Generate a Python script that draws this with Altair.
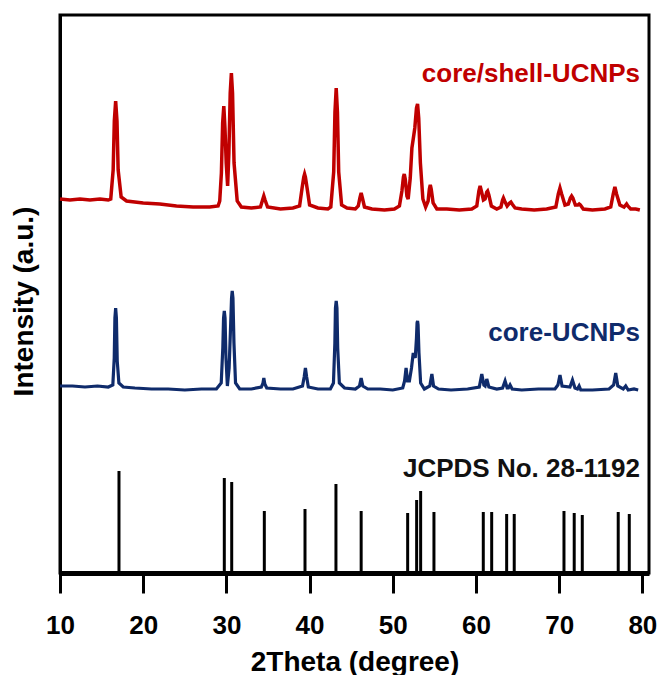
import altair as alt
import pandas as pd

# ---------------- data ----------------
# core/shell-UCNPs pattern: 2theta (deg), intensity (a.u.)
shell_x = [10.0, 11.2, 12.4, 13.6, 14.8, 15.8,
           16.1, 16.39, 16.53, 16.69, 16.85, 16.99, 17.35,
           18.0, 20.0, 22.0, 24.0, 26.0, 28.0, 29.0,
           29.2, 29.4, 29.55, 29.69, 29.83, 29.98, 30.15, 30.3, 30.46, 30.6, 30.74, 30.92, 31.3, 31.8,
           33.0, 34.1, 34.35, 34.5, 34.65, 34.95,
           36.5, 38.0, 38.8, 39.1, 39.3, 39.4, 39.5, 39.7, 40.0, 41.0, 42.2,
           42.55, 42.9, 43.05, 43.2, 43.35, 43.5, 43.85,
           44.5, 45.5, 45.85, 46.05, 46.2, 46.35, 46.6, 47.5, 49.0, 50.2,
           50.8, 51.1, 51.28, 51.38, 51.5, 51.7, 51.85, 52.1, 52.3, 52.46, 52.65, 52.85, 52.98, 53.12, 53.32, 53.62,
           53.95, 54.25, 54.4, 54.51, 54.62, 54.85, 55.3,
           56.5, 58.0, 59.5,
           60.1, 60.35, 60.5, 60.65, 60.9, 61.1, 61.3, 61.4, 61.55, 61.85, 62.5,
           63.0, 63.2, 63.3, 63.45, 63.75, 64.05, 64.2, 64.35, 64.7, 65.5, 67.0, 68.5,
           69.6, 69.9, 70.1, 70.3, 70.7, 71.1, 71.35, 71.5, 71.65, 71.95, 72.25, 72.4, 72.55, 72.9, 74.0, 75.5,
           76.2, 76.5, 76.7, 76.9, 77.3, 77.8, 78.0, 78.1, 78.25, 78.6, 79.2, 79.7]
shell_y = [374, 373, 374, 373, 374, 373,
           374, 403, 452, 472, 452, 403, 376,
           372, 370, 369, 367, 366, 366, 367,
           372, 400, 450, 467, 445, 410, 387, 420, 480, 500, 480, 410, 372, 366,
           365, 366, 373, 377, 373, 366,
           364, 365, 367, 385, 396, 399, 396, 385, 368, 365, 364,
           366, 401, 461, 485, 461, 401, 368,
           365, 364, 367, 375, 380, 375, 366, 364, 363, 364,
           367, 382, 396, 399, 394, 377, 374, 395, 425, 434, 445, 465, 469, 455, 410, 374,
           366, 372, 384, 388, 384, 370, 364,
           364, 363, 364,
           367, 382, 387, 382, 373, 374, 381, 382, 378, 367, 364,
           366, 373, 375, 372, 367, 370, 371, 369, 365, 364, 363, 364,
           366, 379, 385, 379, 368, 369, 375, 377, 375, 368, 368, 369, 368, 364, 363, 364,
           366, 379, 386, 379, 368, 366, 368, 369, 367, 364, 364, 363]

# core-UCNPs pattern
core_x = [10.0, 11.5, 13.0, 14.5, 15.8,
          16.35, 16.52, 16.6, 16.69, 16.78, 16.88, 17.08,
          17.6, 19.0, 21.0, 23.0, 25.0, 27.0, 28.8,
          29.38, 29.57, 29.66, 29.75, 29.84, 29.95, 30.12, 30.33, 30.52, 30.62, 30.7, 30.79, 30.91, 31.1,
          31.6, 33.0, 34.2, 34.4, 34.5, 34.62, 34.85,
          36.5, 38.0, 39.15, 39.35, 39.5, 39.65, 39.85, 41.0, 42.5,
          42.87, 43.04, 43.11, 43.2, 43.29, 43.38, 43.58,
          44.2, 45.5, 46.0, 46.2, 46.4, 47.0, 48.5, 50.0,
          51.2, 51.42, 51.6, 51.78, 52.0, 52.25, 52.46, 52.7, 52.85, 52.92, 52.98, 53.04, 53.15, 53.35,
          53.8, 54.45, 54.7, 54.9, 55.5, 57.0, 59.0,
          60.4, 60.7, 60.95, 61.1, 61.3, 61.55, 62.5, 63.2, 63.5, 63.75,
          63.9, 64.1, 64.35, 65.5, 67.5, 69.5, 69.85, 70.1, 70.35, 71.3, 71.6, 71.9, 72.2, 72.4, 72.6, 74.0, 76.0,
          76.55, 76.8, 77.05, 77.7, 78.0, 78.3, 79.0, 79.5]
core_y = [187, 187, 186, 187, 186,
          188, 215, 255, 265, 255, 212, 190,
          186, 185, 184, 184, 183, 184, 184,
          190, 225, 255, 262, 255, 215, 187, 205, 250, 275, 282, 275, 230, 190,
          184, 184, 186, 190, 195, 189, 185,
          184, 184, 187, 196, 205, 196, 186, 184, 184,
          190, 230, 265, 272, 265, 225, 190,
          185, 184, 187, 195, 187, 184, 184, 183,
          185, 192, 205, 192, 192, 205, 220, 215, 235, 250, 252, 248, 220, 190,
          184, 187, 199, 187, 184, 183, 184,
          186, 199, 188, 187, 194, 186, 184, 185, 192, 185,
          185, 188, 184, 183, 184, 184, 188, 198, 187, 186, 193, 185, 184, 187, 183, 183, 184,
          188, 200, 187, 184, 187, 183, 184, 183]

# JCPDS No. 28-1192 reference lines
ref_x = [17.09, 29.75, 30.64, 34.56, 39.45, 43.17, 46.2, 51.79, 52.87, 53.35, 54.95, 60.88, 61.89, 63.69, 64.6,
         70.58, 71.81, 72.78, 77.1, 78.43]
ref_h = [102, 95, 91, 62, 64, 89, 62, 60, 73, 82, 61, 61, 61, 59, 59, 62, 60, 58, 61, 59]

labels = ["core/shell-UCNPs", "core-UCNPs", "JCPDS No. 28-1192"]
x_ticks = [10, 20, 30, 40, 50, 60, 70, 80]

RED = "#C00000"
BLUE = "#0f2b6b"
FONT = "Liberation Sans"

shell_df = pd.DataFrame({"x": shell_x, "y": shell_y})
core_df = pd.DataFrame({"x": core_x, "y": core_y})
ref_df = pd.DataFrame({"x": ref_x, "h": ref_h})

xscale = alt.Scale(domain=[10, 80.8], nice=False, zero=False)
yscale = alt.Scale(domain=[0, 558], nice=False, zero=False)

xaxis = alt.Axis(values=x_ticks, grid=False, tickSize=20, tickWidth=3, tickColor="black",
                 domainColor="black", domainWidth=5, labelFont=FONT, labelFontSize=26,
                 labelFontWeight="bold", labelColor="black", labelPadding=19, labelFlush=False,
                 title="2Theta (degree)", titleFont=FONT, titleFontSize=28, titleFontWeight="bold",
                 titleColor="black", titleY=97, titleBaseline="alphabetic")
yaxis = alt.Axis(ticks=False, labels=False, grid=False, domainColor="black", domainWidth=3,
                 title="Intensity (a.u.)", titleFont=FONT, titleFontSize=28, titleFontWeight="bold",
                 titleColor="black", titleX=-28, titleY=286, titleAngle=270, titleAlign="center",
                 titleBaseline="alphabetic")

shell = alt.Chart(shell_df).mark_line(color=RED, strokeWidth=3.5).encode(
    x=alt.X("x:Q", scale=xscale, axis=xaxis),
    y=alt.Y("y:Q", scale=yscale, axis=yaxis),
    order="x:Q",
)
core = alt.Chart(core_df).mark_line(color=BLUE, strokeWidth=3.2).encode(
    x=alt.X("x:Q", scale=xscale),
    y=alt.Y("y:Q", scale=yscale),
    order="x:Q",
)
sticks = alt.Chart(ref_df).mark_rule(color="black", strokeWidth=3).encode(
    x=alt.X("x:Q", scale=xscale),
    y=alt.Y("h:Q", scale=yscale),
    y2=alt.datum(0),
)

def label(text, color, ypix):
    return alt.Chart(pd.DataFrame({"t": [text]})).mark_text(
        font=FONT, fontSize=26, fontWeight="bold", color=color, align="right", baseline="alphabetic"
    ).encode(text="t:N", x=alt.value(580), y=alt.value(ypix))

chart = alt.layer(
    sticks, core, shell,
    label(labels[0], RED, 67),
    label(labels[1], BLUE, 326),
    label(labels[2], "#111111", 462),
).properties(
    width=589, height=558,
    autosize=alt.AutoSizeParams(type="none"),
    padding={"left": 60, "top": 15, "right": 12, "bottom": 102},
).configure_view(stroke="black", strokeWidth=3)

chart.save("out.html", embed_options={"renderer": "svg", "actions": False})
